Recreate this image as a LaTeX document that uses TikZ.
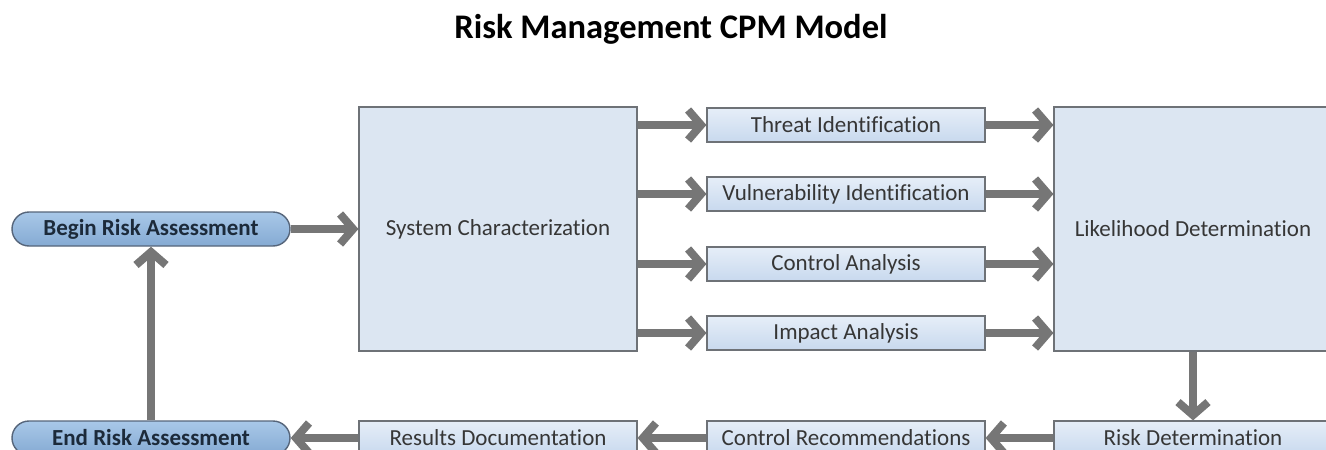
\documentclass[tikz,border=0pt]{standalone}
\usepackage{fontspec}
\setmainfont[Ligatures=NoCommon]{Carlito}
\usetikzlibrary{arrows.meta}
\definecolor{boxline}{HTML}{6E7277}
\definecolor{bigfill}{HTML}{DCE6F2}
\definecolor{smalltop}{HTML}{E6EEF8}
\definecolor{smallbot}{HTML}{C8D9EE}
\definecolor{pilltop}{HTML}{A8C8E8}
\definecolor{pillbot}{HTML}{85AAD3}
\definecolor{pillline}{HTML}{56657A}
\definecolor{pilltext}{HTML}{1C2A3A}
\definecolor{boxtext}{HTML}{363636}
\definecolor{flow}{HTML}{767676}
\tikzset{
  bigbox/.style={draw=boxline, line width=1.2pt, fill=bigfill,
    minimum width=278pt, minimum height=244pt, inner sep=0pt,
    font=\fontsize{23}{27}\selectfont, text=boxtext},
  smallbox/.style={draw=boxline, line width=1.2pt, top color=smalltop, bottom color=smallbot,
    minimum width=278pt, minimum height=34pt, inner sep=0pt,
    font=\fontsize{23}{27}\selectfont, text=boxtext},
  pill/.style={draw=pillline, line width=1.4pt, top color=pilltop, bottom color=pillbot,
    rounded corners=17pt, minimum width=278pt, minimum height=34pt, inner sep=0pt,
    font=\bfseries\fontsize{23}{27}\selectfont, text=pilltext},
  flowarrow/.style={draw=flow, line width=8pt,
    -{Straight Barb[length=13pt,width=30pt]}}
}
\begin{document}
\begin{tikzpicture}[x=1pt,y=-1pt]
\useasboundingbox (0,0) rectangle (1326,450);
\clip (0,0) rectangle (1326,450);

\node[font=\bfseries\fontsize{34.5}{40}\selectfont] (title) at (671,29) {Risk Management CPM Model};

% top row
\node[pill] (begin) at (151,229) {Begin Risk Assessment};
\node[bigbox] (sys) at (498,229) {System Characterization};
\node[smallbox] (thr) at (846,125) {Threat Identification};
\node[smallbox] (vul) at (846,194) {Vulnerability Identification};
\node[smallbox] (ctl) at (846,264) {Control Analysis};
\node[smallbox] (imp) at (846,333) {Impact Analysis};
\node[bigbox] (lik) at (1193,229) {Likelihood Determination};

% bottom row
\node[pill] (endra) at (151,438) {End Risk Assessment};
\node[smallbox] (res) at (498,438) {Results Documentation};
\node[smallbox] (rec) at (846,438) {Control Recommendations};
\node[smallbox] (rdet) at (1193,438) {Risk Determination};

% connectors
\draw[flowarrow] (begin.east) -- (sys.west |- begin.east);
\foreach \n in {thr,vul,ctl,imp}{
  \draw[flowarrow] (sys.east |- \n.west) -- (\n.west);
  \draw[flowarrow] (\n.east) -- (lik.west |- \n.east);
}
\draw[flowarrow] (lik.south) -- (rdet.north);
\draw[flowarrow] (rdet.west) -- (rec.east);
\draw[flowarrow] (rec.west) -- (res.east);
\draw[flowarrow] (res.west) -- (endra.east);
\draw[flowarrow] (endra.north) -- (begin.south);
\end{tikzpicture}
\end{document}
